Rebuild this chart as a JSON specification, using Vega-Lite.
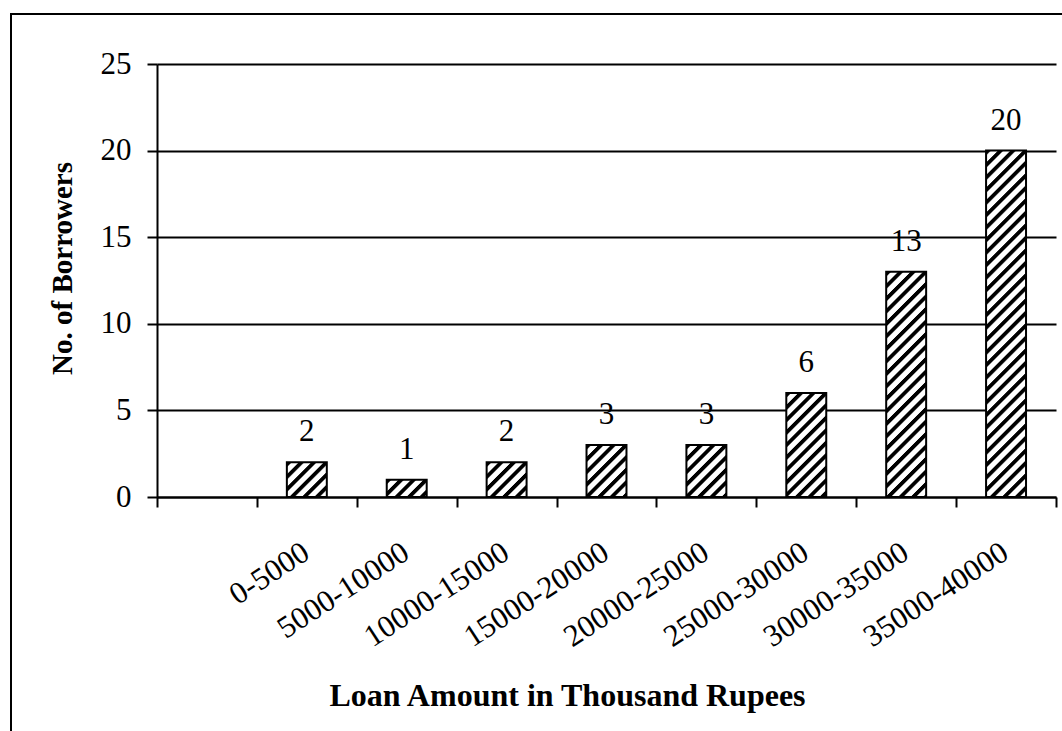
{
  "$schema": "https://vega.github.io/schema/vega-lite/v6.json",
  "width": 1051,
  "height": 717,
  "autosize": {"type": "none"},
  "padding": {"left": 11, "top": 14, "right": 0, "bottom": 0},
  "background": "white",
  "params": [
    {"name": "hatch", "value": [
      {"offset": 0, "color": "#000"}, {"offset": 0.010, "color": "#000"}, {"offset": 0.014, "color": "#fff"}, {"offset": 0.0285, "color": "#fff"},
      {"offset": 0.03125, "color": "#000"}, {"offset": 0.04125, "color": "#000"}, {"offset": 0.04525, "color": "#fff"}, {"offset": 0.05975, "color": "#fff"},
      {"offset": 0.0625, "color": "#000"}, {"offset": 0.0725, "color": "#000"}, {"offset": 0.0765, "color": "#fff"}, {"offset": 0.091, "color": "#fff"},
      {"offset": 0.09375, "color": "#000"}, {"offset": 0.10375, "color": "#000"}, {"offset": 0.10775, "color": "#fff"}, {"offset": 0.12225, "color": "#fff"},
      {"offset": 0.125, "color": "#000"}, {"offset": 0.135, "color": "#000"}, {"offset": 0.139, "color": "#fff"}, {"offset": 0.1535, "color": "#fff"},
      {"offset": 0.15625, "color": "#000"}, {"offset": 0.16625, "color": "#000"}, {"offset": 0.17025, "color": "#fff"}, {"offset": 0.18475, "color": "#fff"},
      {"offset": 0.1875, "color": "#000"}, {"offset": 0.1975, "color": "#000"}, {"offset": 0.2015, "color": "#fff"}, {"offset": 0.216, "color": "#fff"},
      {"offset": 0.21875, "color": "#000"}, {"offset": 0.22875, "color": "#000"}, {"offset": 0.23275, "color": "#fff"}, {"offset": 0.24725, "color": "#fff"},
      {"offset": 0.25, "color": "#000"}, {"offset": 0.26, "color": "#000"}, {"offset": 0.264, "color": "#fff"}, {"offset": 0.2785, "color": "#fff"},
      {"offset": 0.28125, "color": "#000"}, {"offset": 0.29125, "color": "#000"}, {"offset": 0.29525, "color": "#fff"}, {"offset": 0.30975, "color": "#fff"},
      {"offset": 0.3125, "color": "#000"}, {"offset": 0.3225, "color": "#000"}, {"offset": 0.3265, "color": "#fff"}, {"offset": 0.341, "color": "#fff"},
      {"offset": 0.34375, "color": "#000"}, {"offset": 0.35375, "color": "#000"}, {"offset": 0.35775, "color": "#fff"}, {"offset": 0.37225, "color": "#fff"},
      {"offset": 0.375, "color": "#000"}, {"offset": 0.385, "color": "#000"}, {"offset": 0.389, "color": "#fff"}, {"offset": 0.4035, "color": "#fff"},
      {"offset": 0.40625, "color": "#000"}, {"offset": 0.41625, "color": "#000"}, {"offset": 0.42025, "color": "#fff"}, {"offset": 0.43475, "color": "#fff"},
      {"offset": 0.4375, "color": "#000"}, {"offset": 0.4475, "color": "#000"}, {"offset": 0.4515, "color": "#fff"}, {"offset": 0.466, "color": "#fff"},
      {"offset": 0.46875, "color": "#000"}, {"offset": 0.47875, "color": "#000"}, {"offset": 0.48275, "color": "#fff"}, {"offset": 0.49725, "color": "#fff"},
      {"offset": 0.5, "color": "#000"}, {"offset": 0.51, "color": "#000"}, {"offset": 0.514, "color": "#fff"}, {"offset": 0.5285, "color": "#fff"},
      {"offset": 0.53125, "color": "#000"}, {"offset": 0.54125, "color": "#000"}, {"offset": 0.54525, "color": "#fff"}, {"offset": 0.55975, "color": "#fff"},
      {"offset": 0.5625, "color": "#000"}, {"offset": 0.5725, "color": "#000"}, {"offset": 0.5765, "color": "#fff"}, {"offset": 0.591, "color": "#fff"},
      {"offset": 0.59375, "color": "#000"}, {"offset": 0.60375, "color": "#000"}, {"offset": 0.60775, "color": "#fff"}, {"offset": 0.62225, "color": "#fff"},
      {"offset": 0.625, "color": "#000"}, {"offset": 0.635, "color": "#000"}, {"offset": 0.639, "color": "#fff"}, {"offset": 0.6535, "color": "#fff"},
      {"offset": 0.65625, "color": "#000"}, {"offset": 0.66625, "color": "#000"}, {"offset": 0.67025, "color": "#fff"}, {"offset": 0.68475, "color": "#fff"},
      {"offset": 0.6875, "color": "#000"}, {"offset": 0.6975, "color": "#000"}, {"offset": 0.7015, "color": "#fff"}, {"offset": 0.716, "color": "#fff"},
      {"offset": 0.71875, "color": "#000"}, {"offset": 0.72875, "color": "#000"}, {"offset": 0.73275, "color": "#fff"}, {"offset": 0.74725, "color": "#fff"},
      {"offset": 0.75, "color": "#000"}, {"offset": 0.76, "color": "#000"}, {"offset": 0.764, "color": "#fff"}, {"offset": 0.7785, "color": "#fff"},
      {"offset": 0.78125, "color": "#000"}, {"offset": 0.79125, "color": "#000"}, {"offset": 0.79525, "color": "#fff"}, {"offset": 0.80975, "color": "#fff"},
      {"offset": 0.8125, "color": "#000"}, {"offset": 0.8225, "color": "#000"}, {"offset": 0.8265, "color": "#fff"}, {"offset": 0.841, "color": "#fff"},
      {"offset": 0.84375, "color": "#000"}, {"offset": 0.85375, "color": "#000"}, {"offset": 0.85775, "color": "#fff"}, {"offset": 0.87225, "color": "#fff"},
      {"offset": 0.875, "color": "#000"}, {"offset": 0.885, "color": "#000"}, {"offset": 0.889, "color": "#fff"}, {"offset": 0.9035, "color": "#fff"},
      {"offset": 0.90625, "color": "#000"}, {"offset": 0.91625, "color": "#000"}, {"offset": 0.92025, "color": "#fff"}, {"offset": 0.93475, "color": "#fff"},
      {"offset": 0.9375, "color": "#000"}, {"offset": 0.9475, "color": "#000"}, {"offset": 0.9515, "color": "#fff"}, {"offset": 0.966, "color": "#fff"},
      {"offset": 0.96875, "color": "#000"}, {"offset": 0.97875, "color": "#000"}, {"offset": 0.98275, "color": "#fff"}, {"offset": 0.99725, "color": "#fff"}
    ]}
  ],
  "data": {
    "values": [
      {"range": "0-5000", "n": 2},
      {"range": "5000-10000", "n": 1},
      {"range": "10000-15000", "n": 2},
      {"range": "15000-20000", "n": 3},
      {"range": "20000-25000", "n": 3},
      {"range": "25000-30000", "n": 6},
      {"range": "30000-35000", "n": 13},
      {"range": "35000-40000", "n": 20}
    ]
  },
  "encoding": {
    "x": {
      "field": "range",
      "type": "nominal",
      "scale": {
        "domain": ["", "0-5000", "5000-10000", "10000-15000", "15000-20000", "20000-25000", "25000-30000", "30000-35000", "35000-40000"],
        "range": [146, 1045],
        "paddingInner": 0,
        "paddingOuter": 0
      },
      "axis": {
        "title": "Loan Amount in Thousand Rupees",
        "offset": -234,
        "tickBand": "extent",
        "tickSize": 10,
        "tickColor": "black",
        "tickWidth": 2,
        "domainColor": "black",
        "domainWidth": 2,
        "grid": false,
        "labelAngle": -33,
        "labelAlign": "right",
        "labelBaseline": "top",
        "labelOffset": -9,
        "labelPadding": 30,
        "labelFont": "Liberation Serif",
        "labelFontSize": 31,
        "labelColor": "black",
        "labelOverlap": false,
        "labelBound": false,
        "labelFlush": false,
        "titleFont": "Liberation Serif",
        "titleFontSize": 32,
        "titleFontWeight": "bold",
        "titleColor": "black",
        "titleX": 556,
        "titleY": 208,
        "titleAlign": "center",
        "titleBaseline": "alphabetic"
      }
    },
    "y": {
      "field": "n",
      "type": "quantitative",
      "scale": {"domain": [0, 25], "range": [483, 50], "nice": false, "zero": true},
      "axis": {
        "title": "No. of Borrowers",
        "values": [0, 5, 10, 15, 20, 25],
        "offset": -146,
        "tickSize": 10,
        "tickColor": "black",
        "tickWidth": 2,
        "domainColor": "black",
        "domainWidth": 2,
        "grid": true,
        "gridColor": "black",
        "gridWidth": 1.8,
        "gridOpacity": 1,
        "labelFont": "Liberation Serif",
        "labelFontSize": 31,
        "labelColor": "black",
        "labelPadding": 16,
        "labelBound": false,
        "labelFlush": false,
        "labelOverlap": false,
        "titleFont": "Liberation Serif",
        "titleFontSize": 29,
        "titleFontWeight": "bold",
        "titleColor": "black",
        "titleX": -95,
        "titleY": 254,
        "titleAngle": 270,
        "titleAlign": "center",
        "titleBaseline": "middle"
      }
    }
  },
  "layer": [
    {
      "mark": {
        "type": "bar",
        "width": {"band": 0.4},
        "stroke": "black",
        "strokeWidth": 2,
        "fill": {"expr": "{gradient: 'linear', x1: 0, y1: 0, x2: (bandwidth('x') * 0.4) * 400 / (pow(bandwidth('x') * 0.4, 2) + pow(scale('y', 0) - scale('y', datum.n), 2)), y2: (scale('y', 0) - scale('y', datum.n)) * 400 / (pow(bandwidth('x') * 0.4, 2) + pow(scale('y', 0) - scale('y', datum.n), 2)), stops: hatch}"}
      }
    },
    {
      "mark": {
        "type": "text",
        "font": "Liberation Serif",
        "fontSize": 31,
        "baseline": "alphabetic",
        "dy": -21,
        "fill": "black"
      },
      "encoding": {
        "text": {"field": "n", "type": "quantitative"}
      }
    }
  ],
  "config": {
    "view": {"stroke": "black", "strokeWidth": 2, "strokeDash": [1051, 1768, 717]}
  }
}
